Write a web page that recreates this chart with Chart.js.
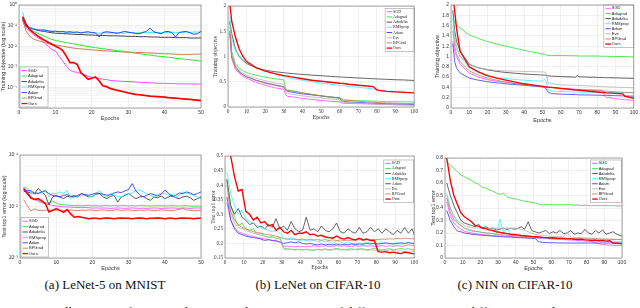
<!DOCTYPE html>
<html>
<head>
<meta charset="utf-8">
<script src="https://cdn.jsdelivr.net/npm/chart.js@4.4.1/dist/chart.umd.min.js"></script>
<style>
  body { margin: 0; width: 640px; height: 308px; overflow: hidden; background: #fff; position: relative; }
  .panel { position: absolute; }
  .panel canvas { display: block; }
  .cap { position: absolute; font-family: "Liberation Serif", "Times New Roman", serif; font-size: 13px; color: #111; white-space: nowrap; transform: translateX(-50%); }
  .foot { position: absolute; left: 10px; top: 304px; font-family: "Liberation Serif", serif; font-size: 13px; color: #111; white-space: nowrap; }
</style>
</head>
<body>
<div class="panel" style="left:0;top:0;width:206px;height:122px"><canvas id="c1"></canvas></div>
<div class="panel" style="left:206px;top:0;width:214px;height:122px"><canvas id="c2"></canvas></div>
<div class="panel" style="left:420px;top:0;width:220px;height:124px"><canvas id="c3"></canvas></div>
<div class="panel" style="left:0;top:150px;width:206px;height:122px"><canvas id="c4"></canvas></div>
<div class="panel" style="left:206px;top:150px;width:214px;height:122px"><canvas id="c5"></canvas></div>
<div class="panel" style="left:420px;top:150px;width:220px;height:122px"><canvas id="c6"></canvas></div>
<div class="cap" style="left:105px;top:277px">(a) LeNet-5 on MNIST</div>
<div class="cap" style="left:318px;top:277px">(b) LeNet on CIFAR-10</div>
<div class="cap" style="left:515px;top:277px">(c) NIN on CIFAR-10</div>
<div class="foot">Figure 3: Illustration of training objective and test top-1 error of different optimizers on different networks.</div>
<script>
// optimizers
const namesMnist = ['SGD', 'Adagrad', 'Adadelta', 'RMSprop', 'Adam', 'BPGrad', 'Ours'];
const namesCifar = ['SGD', 'Adagrad', 'Adadelta', 'RMSprop', 'Adam', 'Eve', 'BPGrad', 'Ours'];

// epochs
const epochsMnist = [1,2,3,4,5,6,7,8,9,10,11,12,13,14,15,16,17,18,19,20,21,22,23,24,25,26,27,28,29,30,31,32,33,34,35,36,37,38,39,40,41,42,43,44,45,46,47,48,49,50];
const epochsLenetTrain = [1,2,4,6,8,10,15,20,25,30,31,32,35,40,45,50,55,60,61,62,65,70,75,78,80,81,85,90,95,100];
const epochsNinTrain = [1,2,3,5,10,15,20,25,30,40,50,51,52,53,55,60,68,69,70,80,83,84,85,90,94,95,100];
const epochsCifarTest = [1,3,5,7,9,11,13,15,17,19,21,23,25,27,29,31,33,35,37,39,41,43,45,47,49,51,53,55,57,59,61,63,65,67,69,71,73,75,77,79,81,83,85,87,89,91,93,95,97,99,100];

// (a) LeNet-5 on MNIST, training objective
const mnistTrainSGD = [0.158,0.076,0.052,0.036,0.027,0.021,0.0145,0.01,0.0069,0.0058,0.0033,0.0019,0.0011,0.00068,0.00058,0.00053,0.00047,0.00041,0.00035,0.00031,0.00029,0.00027,0.00025,0.00024,0.00022,0.00021,0.000205,0.0002,0.000195,0.00019,0.000186,0.000182,0.000178,0.000174,0.00017,0.000167,0.000164,0.000161,0.000159,0.000158,0.000155,0.000153,0.000151,0.00015,0.000148,0.000147,0.000146,0.000146,0.000145,0.000145];
const mnistTrainAdagrad = [0.23,0.091,0.063,0.052,0.044,0.036,0.03,0.025,0.0216,0.019,0.0175,0.016,0.0149,0.0139,0.0129,0.012,0.0112,0.0104,0.0097,0.009,0.0085,0.008,0.0076,0.0072,0.0068,0.0064,0.0061,0.0058,0.0055,0.0052,0.0049,0.0046,0.0044,0.0041,0.0039,0.0037,0.0035,0.0033,0.0032,0.0031,0.0029,0.0028,0.0026,0.0025,0.0024,0.0023,0.0022,0.0021,0.002,0.0019];
const mnistTrainAdadelta = [0.22,0.1,0.08,0.072,0.06,0.055,0.052,0.048,0.045,0.043,0.042,0.041,0.04,0.039,0.038,0.037,0.037,0.036,0.035,0.035,0.034,0.034,0.033,0.033,0.032,0.032,0.032,0.031,0.031,0.03,0.03,0.03,0.029,0.029,0.029,0.028,0.028,0.028,0.027,0.027,0.027,0.027,0.026,0.026,0.026,0.026,0.025,0.025,0.025,0.025];
const mnistTrainRMSprop = [0.45,0.1,0.08,0.07,0.065,0.06,0.058,0.055,0.053,0.05,0.051,0.049,0.047,0.048,0.046,0.045,0.047,0.045,0.044,0.046,0.045,0.043,0.044,0.045,0.043,0.044,0.046,0.044,0.043,0.045,0.046,0.044,0.045,0.047,0.045,0.046,0.048,0.046,0.045,0.047,0.046,0.048,0.046,0.045,0.047,0.048,0.047,0.049,0.048,0.05];
const mnistTrainAdam = [0.2,0.09,0.075,0.065,0.062,0.06,0.063,0.055,0.052,0.054,0.05,0.052,0.048,0.05,0.047,0.049,0.044,0.048,0.05,0.046,0.044,0.028,0.046,0.05,0.048,0.045,0.042,0.047,0.052,0.048,0.045,0.042,0.04,0.046,0.052,0.075,0.05,0.045,0.04,0.05,0.052,0.045,0.028,0.047,0.05,0.052,0.045,0.038,0.04,0.052];
const mnistTrainBPGrad = [0.19,0.052,0.03,0.0225,0.019,0.017,0.015,0.0134,0.0125,0.0116,0.0108,0.01,0.0093,0.0086,0.0081,0.0077,0.0074,0.0072,0.0069,0.0067,0.0064,0.0062,0.006,0.0059,0.0058,0.0056,0.0055,0.0053,0.0052,0.0052,0.0051,0.005,0.0049,0.0049,0.0048,0.0047,0.0046,0.0045,0.0044,0.0043,0.0043,0.0042,0.0041,0.004,0.004,0.004,0.004,0.0041,0.0041,0.0042];
const mnistTrainOurs = [0.275,0.11,0.063,0.044,0.0325,0.025,0.0195,0.0156,0.0125,0.01,0.0083,0.0062,0.0033,0.0016,0.0016,0.0013,0.00052,0.00036,0.00025,0.00028,0.00032,0.00021,0.00012,0.00011,0.00009,0.00008,0.000073,0.000066,0.00006,0.000054,0.00005,0.000046,0.000044,0.000042,0.00004,0.000038,0.000037,0.000036,0.000035,0.000034,0.000032,0.000031,0.00003,0.000029,0.000028,0.000027,0.000026,0.000025,0.000024,0.000023];

// (a) LeNet-5 on MNIST, test top1 error
const mnistTestSGD = [0.024,0.0192,0.0158,0.0136,0.0126,0.0119,0.0114,0.0108,0.0105,0.0102,0.0101,0.0098,0.0098,0.0097,0.0096,0.0096,0.0095,0.0096,0.0095,0.0093,0.0094,0.0093,0.0094,0.0093,0.0092,0.0093,0.0094,0.0093,0.0092,0.0093,0.0094,0.0093,0.0092,0.0093,0.0092,0.0093,0.0094,0.0093,0.0092,0.0093,0.0093,0.0094,0.0093,0.0092,0.0094,0.0093,0.0092,0.0093,0.0094,0.0093];
const mnistTestAdagrad = [0.0207,0.0178,0.0153,0.0142,0.0132,0.0126,0.0119,0.0114,0.0128,0.0117,0.011,0.0108,0.0107,0.0105,0.0104,0.0105,0.0103,0.0104,0.0105,0.0103,0.0104,0.0102,0.0104,0.0105,0.0103,0.0104,0.0103,0.0105,0.0104,0.0103,0.0104,0.0103,0.0104,0.0105,0.0103,0.0102,0.0104,0.0103,0.0104,0.0102,0.0103,0.0104,0.0103,0.0102,0.0103,0.0104,0.0102,0.0101,0.0102,0.0101];
const mnistTestAdadelta = [0.0207,0.0192,0.0183,0.0178,0.0223,0.0192,0.0165,0.0108,0.0153,0.0165,0.0153,0.0142,0.0158,0.0153,0.0165,0.0153,0.0178,0.0165,0.0153,0.0158,0.0173,0.0178,0.0153,0.0142,0.0158,0.0165,0.0122,0.0153,0.0165,0.0178,0.0158,0.0142,0.0153,0.0158,0.0142,0.0132,0.0153,0.0148,0.016,0.0142,0.0153,0.0165,0.0148,0.0142,0.0153,0.0158,0.0148,0.0132,0.0142,0.0153];
const mnistTestRMSprop = [0.024,0.0223,0.0183,0.0173,0.0192,0.0178,0.0213,0.0153,0.0183,0.0178,0.0192,0.0178,0.0207,0.0142,0.0158,0.0153,0.0165,0.0173,0.0158,0.0153,0.0178,0.0201,0.0165,0.0153,0.0178,0.0165,0.0158,0.0153,0.0173,0.0178,0.0183,0.0201,0.0213,0.0192,0.0178,0.0165,0.0153,0.0173,0.0183,0.0178,0.0165,0.0173,0.0153,0.0165,0.0192,0.0183,0.0173,0.0165,0.0153,0.0142];
const mnistTestAdam = [0.0192,0.0207,0.0201,0.0183,0.0178,0.0192,0.0201,0.0178,0.0165,0.0158,0.0153,0.0165,0.017,0.0158,0.0153,0.0165,0.0178,0.017,0.0165,0.0173,0.0183,0.0178,0.0173,0.0165,0.017,0.0183,0.0192,0.0186,0.0201,0.0213,0.0279,0.0201,0.017,0.0153,0.0165,0.0178,0.017,0.016,0.0173,0.0207,0.0183,0.0153,0.0165,0.0183,0.0178,0.0192,0.0183,0.017,0.0178,0.0192];
const mnistTestBPGrad = [0.0137,0.0105,0.0082,0.009,0.0084,0.0083,0.0085,0.0083,0.0086,0.0084,0.0085,0.0083,0.0084,0.0086,0.0084,0.0083,0.0085,0.0084,0.0086,0.0085,0.0083,0.0085,0.0086,0.0084,0.0083,0.0085,0.0087,0.0084,0.0085,0.0086,0.0084,0.0083,0.0085,0.0084,0.0086,0.0085,0.0083,0.0084,0.0086,0.0085,0.0084,0.0083,0.0085,0.0088,0.0091,0.0086,0.0084,0.0083,0.0084,0.0084];
const mnistTestOurs = [0.0223,0.0178,0.0146,0.0137,0.0142,0.0128,0.0114,0.0078,0.0084,0.0091,0.0084,0.0077,0.0087,0.0072,0.0062,0.0064,0.0062,0.006,0.0058,0.0059,0.0059,0.0058,0.0059,0.006,0.0059,0.0058,0.0059,0.006,0.0059,0.0059,0.0058,0.0059,0.006,0.0059,0.0058,0.0059,0.0059,0.006,0.0059,0.0058,0.0059,0.0059,0.0058,0.0059,0.006,0.0059,0.0059,0.0058,0.0059,0.0059];

// (b) LeNet on CIFAR-10, training objective
const lenetTrainSGD = [1.45,0.95,0.75,0.67,0.61,0.57,0.49,0.43,0.38,0.35,0.24,0.21,0.2,0.17,0.15,0.13,0.115,0.1,0.08,0.075,0.07,0.065,0.06,0.057,0.055,0.054,0.05,0.045,0.042,0.04];
const lenetTrainAdagrad = [1.72,1.1,0.86,0.77,0.72,0.68,0.63,0.59,0.56,0.54,0.36,0.34,0.32,0.28,0.25,0.22,0.19,0.17,0.15,0.14,0.135,0.125,0.12,0.115,0.113,0.112,0.108,0.105,0.102,0.1];
const lenetTrainAdadelta = [1.68,1.45,1.15,1.0,0.92,0.86,0.78,0.73,0.7,0.68,0.675,0.67,0.66,0.645,0.63,0.62,0.605,0.595,0.593,0.59,0.585,0.575,0.565,0.56,0.556,0.555,0.548,0.54,0.535,0.525];
const lenetTrainRMSprop = [1.8,1.35,1.12,1.02,0.94,0.88,0.79,0.72,0.66,0.6,0.59,0.58,0.56,0.53,0.5,0.47,0.45,0.43,0.425,0.42,0.41,0.39,0.37,0.355,0.345,0.34,0.32,0.305,0.295,0.285];
const lenetTrainAdam = [1.5,1.0,0.8,0.7,0.64,0.6,0.53,0.48,0.44,0.4,0.33,0.31,0.29,0.26,0.24,0.22,0.2,0.18,0.12,0.11,0.1,0.09,0.08,0.075,0.072,0.07,0.065,0.06,0.055,0.05];
const lenetTrainEve = [1.6,1.05,0.82,0.73,0.67,0.63,0.57,0.52,0.48,0.45,0.29,0.27,0.25,0.22,0.2,0.18,0.16,0.14,0.1,0.095,0.085,0.075,0.065,0.06,0.058,0.056,0.05,0.045,0.04,0.035];
const lenetTrainBPGrad = [1.45,1.0,0.78,0.69,0.64,0.6,0.53,0.47,0.43,0.39,0.34,0.33,0.31,0.28,0.25,0.22,0.2,0.18,0.17,0.14,0.13,0.115,0.1,0.095,0.09,0.088,0.08,0.075,0.07,0.065];
const lenetTrainOurs = [2.05,1.7,1.38,1.15,1.0,0.9,0.78,0.71,0.66,0.62,0.615,0.61,0.59,0.56,0.53,0.51,0.49,0.47,0.468,0.465,0.45,0.43,0.415,0.405,0.34,0.33,0.31,0.3,0.29,0.28];

// (b) LeNet on CIFAR-10, test top1 error
const lenetTestSGD = [0.34,0.28,0.255,0.24,0.235,0.23,0.225,0.225,0.22,0.218,0.215,0.213,0.21,0.21,0.205,0.192,0.19,0.19,0.188,0.19,0.19,0.188,0.19,0.192,0.19,0.19,0.192,0.19,0.19,0.193,0.19,0.192,0.19,0.19,0.192,0.19,0.193,0.19,0.192,0.19,0.19,0.193,0.19,0.192,0.19,0.193,0.19,0.192,0.195,0.192,0.193];
const lenetTestAdagrad = [0.42,0.33,0.29,0.26,0.27,0.25,0.245,0.25,0.23,0.235,0.225,0.22,0.225,0.215,0.22,0.185,0.182,0.18,0.178,0.18,0.177,0.18,0.178,0.176,0.18,0.178,0.182,0.178,0.18,0.183,0.18,0.178,0.18,0.182,0.178,0.18,0.182,0.178,0.18,0.183,0.18,0.178,0.18,0.182,0.178,0.18,0.183,0.18,0.182,0.178,0.18];
const lenetTestAdadelta = [0.42,0.33,0.3,0.32,0.29,0.28,0.265,0.27,0.255,0.26,0.25,0.265,0.255,0.285,0.25,0.26,0.245,0.275,0.25,0.24,0.245,0.29,0.245,0.25,0.24,0.26,0.245,0.24,0.25,0.27,0.24,0.235,0.25,0.24,0.235,0.255,0.235,0.24,0.255,0.24,0.25,0.235,0.25,0.24,0.23,0.245,0.235,0.255,0.235,0.25,0.23];
const lenetTestRMSprop = [0.445,0.37,0.33,0.3,0.315,0.285,0.275,0.27,0.26,0.255,0.25,0.245,0.24,0.245,0.235,0.22,0.215,0.22,0.215,0.21,0.212,0.21,0.208,0.212,0.205,0.21,0.205,0.208,0.2,0.21,0.205,0.2,0.205,0.2,0.198,0.202,0.2,0.205,0.2,0.198,0.2,0.202,0.2,0.198,0.2,0.202,0.198,0.2,0.205,0.2,0.2];
const lenetTestAdam = [0.36,0.28,0.25,0.235,0.23,0.225,0.222,0.22,0.218,0.215,0.21,0.213,0.21,0.208,0.205,0.2,0.203,0.205,0.202,0.205,0.2,0.198,0.2,0.197,0.195,0.198,0.195,0.197,0.195,0.198,0.195,0.197,0.195,0.198,0.196,0.198,0.197,0.2,0.198,0.2,0.198,0.2,0.202,0.2,0.198,0.2,0.202,0.2,0.203,0.2,0.2];
const lenetTestEve = [0.4,0.3,0.27,0.255,0.25,0.245,0.24,0.235,0.232,0.228,0.225,0.222,0.22,0.218,0.215,0.18,0.178,0.18,0.177,0.18,0.178,0.18,0.176,0.178,0.18,0.177,0.179,0.176,0.178,0.18,0.177,0.179,0.176,0.178,0.18,0.182,0.178,0.176,0.178,0.176,0.175,0.177,0.175,0.178,0.175,0.173,0.175,0.172,0.174,0.172,0.173];
const lenetTestBPGrad = [0.41,0.31,0.28,0.265,0.255,0.25,0.245,0.24,0.238,0.235,0.232,0.23,0.228,0.225,0.222,0.216,0.215,0.214,0.215,0.213,0.215,0.212,0.214,0.212,0.213,0.211,0.213,0.21,0.212,0.21,0.212,0.21,0.211,0.21,0.212,0.213,0.211,0.213,0.212,0.214,0.213,0.215,0.214,0.216,0.215,0.217,0.216,0.218,0.217,0.216,0.215];
const lenetTestOurs = [0.56,0.5,0.43,0.38,0.385,0.31,0.3,0.28,0.29,0.27,0.275,0.26,0.265,0.245,0.255,0.24,0.235,0.245,0.23,0.235,0.235,0.24,0.23,0.232,0.225,0.228,0.222,0.22,0.218,0.225,0.218,0.215,0.22,0.215,0.212,0.218,0.212,0.215,0.21,0.21,0.172,0.17,0.172,0.168,0.17,0.167,0.165,0.17,0.168,0.165,0.165];

// (c) NIN on CIFAR-10, training objective
const ninTrainSGD = [1.3,1.1,1.0,0.85,0.68,0.6,0.55,0.52,0.5,0.46,0.42,0.415,0.41,0.405,0.4,0.38,0.365,0.363,0.36,0.35,0.345,0.23,0.21,0.18,0.165,0.16,0.15];
const ninTrainAdagrad = [1.75,1.68,1.62,1.55,1.42,1.35,1.29,1.24,1.2,1.12,1.05,1.04,1.03,1.02,1.02,1.02,1.015,1.015,1.01,1.01,1.005,1.005,1.005,1.0,1.0,1.0,0.99];
const ninTrainAdadelta = [1.9,1.5,1.3,1.1,0.85,0.78,0.74,0.71,0.69,0.66,0.64,0.64,0.635,0.625,0.62,0.61,0.6,0.63,0.605,0.595,0.59,0.59,0.588,0.585,0.58,0.58,0.575];
const ninTrainRMSprop = [1.75,1.4,1.2,1.0,0.78,0.68,0.62,0.59,0.57,0.54,0.52,0.56,0.52,0.36,0.33,0.32,0.31,0.31,0.31,0.305,0.305,0.3,0.3,0.3,0.3,0.3,0.3];
const ninTrainAdam = [1.25,0.9,0.78,0.68,0.58,0.54,0.51,0.49,0.47,0.44,0.41,0.4,0.38,0.31,0.28,0.27,0.26,0.26,0.255,0.25,0.245,0.245,0.245,0.24,0.235,0.235,0.23];
const ninTrainEve = [1.6,1.3,1.15,1.0,0.85,0.78,0.75,0.73,0.72,0.71,0.7,0.7,0.68,0.5,0.47,0.45,0.44,0.44,0.435,0.42,0.415,0.415,0.41,0.405,0.4,0.4,0.39];
const ninTrainBPGrad = [1.5,1.2,1.05,0.9,0.72,0.64,0.58,0.54,0.5,0.45,0.41,0.408,0.405,0.4,0.395,0.38,0.36,0.358,0.355,0.335,0.33,0.328,0.325,0.315,0.305,0.303,0.295];
const ninTrainOurs = [2.2,1.9,1.55,1.1,0.8,0.7,0.63,0.58,0.54,0.47,0.42,0.415,0.41,0.405,0.4,0.38,0.35,0.348,0.345,0.31,0.3,0.3,0.295,0.285,0.275,0.23,0.19];

// (c) NIN on CIFAR-10, test top1 error
const ninTestSGD = [0.45,0.34,0.28,0.25,0.23,0.215,0.205,0.2,0.195,0.19,0.188,0.185,0.183,0.18,0.178,0.176,0.175,0.173,0.172,0.17,0.168,0.167,0.165,0.163,0.162,0.16,0.158,0.156,0.155,0.153,0.152,0.15,0.148,0.147,0.145,0.143,0.142,0.14,0.138,0.136,0.134,0.13,0.12,0.112,0.108,0.105,0.103,0.102,0.1,0.1,0.1];
const ninTestAdagrad = [0.77,0.745,0.72,0.69,0.665,0.65,0.635,0.62,0.6,0.59,0.565,0.56,0.545,0.535,0.52,0.51,0.52,0.49,0.48,0.475,0.47,0.46,0.455,0.45,0.445,0.44,0.43,0.425,0.43,0.428,0.43,0.425,0.428,0.425,0.43,0.425,0.422,0.425,0.42,0.423,0.42,0.418,0.422,0.42,0.418,0.42,0.418,0.42,0.415,0.418,0.415];
const ninTestAdadelta = [0.6,0.5,0.42,0.36,0.3,0.28,0.27,0.26,0.25,0.27,0.24,0.25,0.235,0.24,0.225,0.23,0.24,0.225,0.24,0.23,0.235,0.25,0.23,0.29,0.22,0.21,0.2,0.21,0.22,0.195,0.21,0.2,0.22,0.195,0.2,0.22,0.19,0.2,0.195,0.23,0.2,0.19,0.22,0.2,0.225,0.19,0.2,0.21,0.19,0.18,0.175];
const ninTestRMSprop = [0.52,0.4,0.33,0.29,0.26,0.24,0.22,0.215,0.21,0.21,0.205,0.2,0.2,0.195,0.19,0.31,0.2,0.245,0.19,0.185,0.182,0.18,0.178,0.175,0.172,0.17,0.165,0.16,0.158,0.16,0.155,0.157,0.155,0.153,0.155,0.15,0.152,0.15,0.148,0.15,0.145,0.145,0.142,0.14,0.14,0.138,0.135,0.135,0.132,0.13,0.13];
const ninTestAdam = [0.38,0.3,0.25,0.215,0.21,0.2,0.195,0.19,0.187,0.185,0.182,0.18,0.178,0.175,0.173,0.172,0.17,0.168,0.167,0.165,0.163,0.162,0.16,0.158,0.157,0.155,0.13,0.125,0.123,0.122,0.122,0.121,0.12,0.12,0.12,0.12,0.12,0.12,0.12,0.12,0.12,0.12,0.12,0.12,0.12,0.12,0.12,0.12,0.12,0.12,0.12];
const ninTestEve = [0.5,0.4,0.34,0.3,0.28,0.26,0.25,0.245,0.24,0.24,0.235,0.24,0.235,0.24,0.235,0.24,0.235,0.24,0.235,0.24,0.235,0.23,0.22,0.21,0.2,0.19,0.185,0.18,0.178,0.175,0.175,0.172,0.17,0.17,0.21,0.168,0.165,0.165,0.163,0.16,0.16,0.158,0.155,0.155,0.153,0.152,0.15,0.15,0.148,0.148,0.148];
const ninTestBPGrad = [0.48,0.37,0.31,0.28,0.26,0.24,0.23,0.22,0.215,0.21,0.205,0.2,0.198,0.195,0.19,0.188,0.185,0.183,0.18,0.178,0.176,0.175,0.173,0.172,0.17,0.168,0.167,0.165,0.164,0.163,0.162,0.161,0.16,0.16,0.158,0.157,0.156,0.155,0.155,0.154,0.153,0.152,0.152,0.151,0.15,0.15,0.15,0.149,0.149,0.148,0.148];
const ninTestOurs = [0.8,0.62,0.5,0.43,0.36,0.33,0.31,0.29,0.26,0.255,0.24,0.235,0.225,0.22,0.21,0.205,0.2,0.195,0.19,0.188,0.185,0.18,0.178,0.175,0.172,0.17,0.168,0.165,0.163,0.16,0.162,0.158,0.157,0.155,0.153,0.155,0.15,0.148,0.15,0.145,0.143,0.14,0.142,0.138,0.14,0.135,0.138,0.12,0.118,0.115,0.115];

// tick values and labels
const xTicks50 = [0, 10, 20, 30, 40, 50];
const xTicks100 = [0, 10, 20, 30, 40, 50, 60, 70, 80, 90, 100];
const mnistTrainDecades = [1e-5, 1e-4, 1e-3, 1e-2, 1e-1, 1];
const mnistTrainDecadeLabels = ['', '10\u207B\u2074', '10\u207B\u00B3', '10\u207B\u00B2', '10\u207B\u00B9', '10\u2070'];
const mnistTestDecades = [1e-3, 1e-2, 1e-1];
const mnistTestDecadeLabels = ['10\u207B\u00B3', '10\u207B\u00B2', '10\u207B\u00B9'];
const lenetTrainTicks = [0, 0.5, 1, 1.5, 2];
const lenetTrainLabels = ['0', '0.5', '1', '1.5', '2'];
const ninTrainTicks = [0, 0.2, 0.4, 0.6, 0.8, 1, 1.2, 1.4, 1.6, 1.8, 2];
const ninTrainLabels = ['0', '0.2', '0.4', '0.6', '0.8', '1', '1.2', '1.4', '1.6', '1.8', '2'];
const lenetTestTicks = [0.15, 0.2, 0.25, 0.3, 0.35, 0.4, 0.45, 0.5];
const lenetTestLabels = ['0.15', '0.2', '0.25', '0.3', '0.35', '0.4', '0.45', '0.5'];
const ninTestTicks = [0, 0.1, 0.2, 0.3, 0.4, 0.5, 0.6, 0.7, 0.8];
const ninTestLabels = ['0', '0.1', '0.2', '0.3', '0.4', '0.5', '0.6', '0.7', '0.8'];

const colors = {
  SGD: '#ff4dff', Adagrad: '#2fe62f', Adadelta: '#404040', RMSprop: '#33f5f5',
  Adam: '#3838ff', Eve: '#b4b4b4', BPGrad: '#c97c55', Ours: '#ff0000'
};
const SANS = '"Liberation Sans", Arial, sans-serif';
const SERIF = '"Liberation Serif", "Times New Roman", serif';

// legend box drawn inside the plot area
const boxLegend = {
  id: 'boxLegend',
  afterDatasetsDraw(chart, args, o) {
    const a = chart.chartArea, ctx = chart.ctx;
    const h = o.names.length * o.rowH + 1.5;
    const x = o.left != null ? a.left + o.left : a.right - o.right - o.w;
    const y = o.top != null ? a.top + o.top : a.bottom - o.bottom - h;
    ctx.save();
    ctx.fillStyle = '#fff';
    ctx.fillRect(x, y, o.w, h);
    ctx.strokeStyle = '#8a8a8a';
    ctx.lineWidth = 0.5;
    ctx.strokeRect(x, y, o.w, h);
    ctx.font = o.size + 'px ' + o.family;
    ctx.textBaseline = 'middle';
    o.names.forEach((name, i) => {
      const cy = y + 0.8 + o.rowH * (i + 0.5);
      ctx.strokeStyle = colors[name];
      ctx.lineWidth = name === 'Ours' ? 1.3 : 0.9;
      ctx.beginPath();
      ctx.moveTo(x + 1.5, cy);
      ctx.lineTo(x + 7, cy);
      ctx.stroke();
      ctx.fillStyle = '#222';
      ctx.fillText(name, x + 8, cy);
    });
    ctx.restore();
  }
};

// box around the axes
const frame = {
  id: 'frame',
  afterDraw(chart) {
    const a = chart.chartArea, ctx = chart.ctx;
    ctx.save();
    ctx.strokeStyle = '#6a6a6a';
    ctx.lineWidth = 0.6;
    ctx.strokeRect(a.left, a.top, a.right - a.left, a.bottom - a.top);
    ctx.restore();
  }
};

function near(v, list) {
  return list.findIndex(t => Math.abs(v / t - 1) < 1e-6);
}

function makePanel(id, p) {
  const font = { family: p.family, size: p.size };
  const datasets = p.names.map((name, i) => ({
    label: name,
    data: p.epochs.map((e, k) => ({ x: e, y: p.values[i][k] })),
    borderColor: colors[name],
    borderWidth: name === 'Ours' ? p.lw * 1.7 : p.lw,
    pointRadius: 0,
    tension: 0,
    fill: false,
    order: p.names.length - i
  }));

  let y;
  if (p.log) {
    y = {
      type: 'logarithmic', min: p.yTicks[0], max: p.yTicks[p.yTicks.length - 1],
      afterBuildTicks: s => {
        const t = [];
        p.yTicks.forEach((d, i) => {
          t.push({ value: d });
          if (i < p.yTicks.length - 1) for (let k = 2; k < 10; k++) t.push({ value: d * k });
        });
        s.ticks = t;
      },
      ticks: {
        autoSkip: false, font, color: '#333', padding: 2,
        callback: v => { const i = near(v, p.yTicks); return i < 0 ? '' : p.yLabels[i]; }
      },
      grid: {
        drawTicks: false, lineWidth: 0.5,
        color: c => near(c.tick.value, p.yTicks) < 0 ? '#efefef' : '#dedede'
      }
    };
  } else {
    y = {
      type: 'linear', min: p.yTicks[0], max: p.yTicks[p.yTicks.length - 1],
      afterBuildTicks: s => { s.ticks = p.yTicks.map(v => ({ value: v })); },
      ticks: { autoSkip: false, font, color: '#333', padding: 2, callback: (v, i) => p.yLabels[i] },
      grid: { drawTicks: false, lineWidth: 0.5, color: '#e2e2e2' }
    };
  }
  y.border = { display: false };
  y.afterFit = s => { s.width = p.yW; };
  y.title = { display: true, text: p.yTitle, font: { family: p.family, size: p.size + 0.5 }, color: '#333', padding: { top: p.yTitlePad, bottom: 0 } };

  new Chart(document.getElementById(id), {
    type: 'line',
    data: { datasets },
    plugins: [boxLegend, frame],
    options: {
      responsive: true,
      maintainAspectRatio: false,
      animation: false,
      devicePixelRatio: 1,
      layout: { padding: { top: p.padT, right: p.padR, left: 0, bottom: 0 } },
      plugins: {
        legend: { display: false },
        tooltip: { enabled: false },
        boxLegend: Object.assign({ names: p.names, family: p.family, size: 4 }, p.legend)
      },
      scales: {
        x: {
          type: 'linear', min: 0, max: p.xTicks[p.xTicks.length - 1],
          afterBuildTicks: s => { s.ticks = p.xTicks.map(v => ({ value: v })); },
          afterFit: s => { s.height = p.xH; },
          ticks: { autoSkip: false, maxRotation: 0, font, color: '#333', padding: 2, callback: (v, i) => String(p.xTicks[i]) },
          grid: { drawTicks: false, lineWidth: 0.5, color: '#e2e2e2' },
          border: { display: false },
          title: { display: true, text: 'Epochs', font: { family: p.family, size: p.size + 0.5 }, color: '#333', padding: { top: 0, bottom: p.xTitlePad } }
        },
        y
      }
    }
  });
}

makePanel('c1', {
  epochs: epochsMnist, names: namesMnist,
  values: [mnistTrainSGD, mnistTrainAdagrad, mnistTrainAdadelta, mnistTrainRMSprop, mnistTrainAdam, mnistTrainBPGrad, mnistTrainOurs],
  log: true, yTicks: mnistTrainDecades, yLabels: mnistTrainDecadeLabels, xTicks: xTicks50,
  yTitle: 'Training objective (log scale)', family: SANS, size: 5, lw: 1.0,
  yW: 19, xH: 14, padT: 3, padR: 5, yTitlePad: 0, xTitlePad: 0.7,
  legend: { left: 1, bottom: 1, w: 28, rowH: 5.5 }
});
makePanel('c2', {
  epochs: epochsLenetTrain, names: namesCifar,
  values: [lenetTrainSGD, lenetTrainAdagrad, lenetTrainAdadelta, lenetTrainRMSprop, lenetTrainAdam, lenetTrainEve, lenetTrainBPGrad, lenetTrainOurs],
  log: false, yTicks: lenetTrainTicks, yLabels: lenetTrainLabels, xTicks: xTicks100,
  yTitle: 'Training objective', family: SERIF, size: 5.2, lw: 0.8,
  yW: 22, xH: 15, padT: 6, padR: 1, yTitlePad: 6.5, xTitlePad: 1.4,
  legend: { right: 0, top: 2.3, w: 29, rowH: 5.2 }
});
makePanel('c3', {
  epochs: epochsNinTrain, names: namesCifar,
  values: [ninTrainSGD, ninTrainAdagrad, ninTrainAdadelta, ninTrainRMSprop, ninTrainAdam, ninTrainEve, ninTrainBPGrad, ninTrainOurs],
  log: false, yTicks: ninTrainTicks, yLabels: ninTrainLabels, xTicks: xTicks100,
  yTitle: 'Training objective', family: SANS, size: 5, lw: 0.8,
  yW: 31, xH: 16, padT: 3, padR: 3, yTitlePad: 13.7, xTitlePad: 0.7,
  legend: { right: 0, top: 0, w: 30, rowH: 5.1 }
});
makePanel('c4', {
  epochs: epochsMnist, names: namesMnist,
  values: [mnistTestSGD, mnistTestAdagrad, mnistTestAdadelta, mnistTestRMSprop, mnistTestAdam, mnistTestBPGrad, mnistTestOurs],
  log: true, yTicks: mnistTestDecades, yLabels: mnistTestDecadeLabels, xTicks: xTicks50,
  yTitle: 'Test top1 error (log scale)', family: SANS, size: 5, lw: 0.9,
  yW: 20, xH: 14, padT: 5, padR: 5, yTitlePad: 0.7, xTitlePad: 0.7,
  legend: { left: 1, bottom: 1, w: 27.5, rowH: 5.4 }
});
makePanel('c5', {
  epochs: epochsCifarTest, names: namesCifar,
  values: [lenetTestSGD, lenetTestAdagrad, lenetTestAdadelta, lenetTestRMSprop, lenetTestAdam, lenetTestEve, lenetTestBPGrad, lenetTestOurs],
  log: false, yTicks: lenetTestTicks, yLabels: lenetTestLabels, xTicks: xTicks100,
  yTitle: 'Test top1 error', family: SERIF, size: 5.2, lw: 0.8,
  yW: 19, xH: 14, padT: 6, padR: 3, yTitlePad: 3.7, xTitlePad: 1.4,
  legend: { right: 0.3, top: 4, w: 30, rowH: 5.1 }
});
makePanel('c6', {
  epochs: epochsCifarTest, names: namesCifar,
  values: [ninTestSGD, ninTestAdagrad, ninTestAdadelta, ninTestRMSprop, ninTestAdam, ninTestEve, ninTestBPGrad, ninTestOurs],
  log: false, yTicks: ninTestTicks, yLabels: ninTestLabels, xTicks: xTicks100,
  yTitle: 'Test top1 error', family: SANS, size: 5, lw: 0.8,
  yW: 25, xH: 14, padT: 8, padR: 18, yTitlePad: 9.7, xTitlePad: 0.4,
  legend: { right: 0.3, top: 2, w: 31, rowH: 5.1 }
});
</script>
</body>
</html>
